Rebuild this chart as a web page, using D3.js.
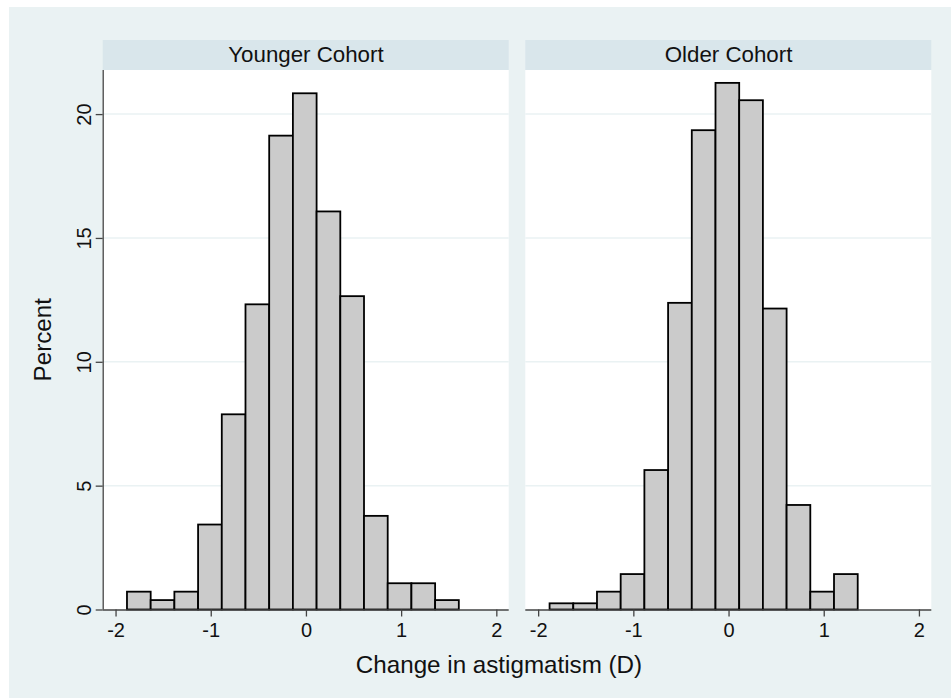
<!DOCTYPE html>
<html><head><meta charset="utf-8">
<script src="https://cdn.jsdelivr.net/npm/d3@7"></script>
<style>html,body{margin:0;padding:0;background:#fff;}svg{display:block;font-family:"Liberation Sans",Arial,sans-serif;}</style>
</head><body>
<script>
// Data
const panels = ["Younger Cohort", "Older Cohort"];
const binStart = -1.88;
const binWidth = 0.249;
const younger = [0.72, 0.38, 0.72, 3.43, 7.88, 12.32, 19.13, 20.84, 16.07, 12.65, 3.78, 1.06, 1.06, 0.38];
const older   = [0.25, 0.25, 0.72, 1.43, 5.63, 12.38, 19.35, 21.26, 20.56, 12.15, 4.22, 0.72, 1.43];
const xTicks = [-2, -1, 0, 1, 2];
const yTicks = [0, 5, 10, 15, 20];
const xTitle = "Change in astigmatism (D)";
const yTitle = "Percent";

const W = 951, H = 698;
const svg = d3.select("body").append("svg").attr("width", W).attr("height", H);
svg.append("rect").attr("x", 9).attr("y", 7).attr("width", W - 9).attr("height", H - 7).attr("fill", "#eaf2f3");

const plotTop = 70, plotBottom = 609.5, panelW = 406;
const panelX = [102.7, 525.3];
const y = d3.scaleLinear().domain([0, 21.78]).range([plotBottom, plotTop]);
const series = [younger, older];

panels.forEach((name, i) => {
  const x0 = panelX[i];
  const x = d3.scaleLinear().domain([-2.135, 2.13]).range([x0, x0 + panelW]);
  const g = svg.append("g");
  // header
  g.append("rect").attr("x", x0).attr("y", 40).attr("width", panelW).attr("height", 30).attr("fill", "#d9e6eb");
  g.append("text").attr("x", x(0)).attr("y", 62).attr("text-anchor", "middle")
    .attr("font-size", 22.3).attr("fill", "#111").text(name);
  // plot area
  g.append("rect").attr("x", x0).attr("y", plotTop).attr("width", panelW).attr("height", plotBottom - plotTop).attr("fill", "#fff");
  // grid
  g.selectAll("line.grid").data(yTicks.filter(d => d > 0)).join("line")
    .attr("x1", x0).attr("x2", x0 + panelW)
    .attr("y1", d => y(d)).attr("y2", d => y(d))
    .attr("stroke", "#eaf2f3").attr("stroke-width", 1.5);
  // bars
  const bins = series[i].map((v, k) => ({x0: binStart + k * binWidth, x1: binStart + (k + 1) * binWidth, v}));
  g.selectAll("rect.bar").data(bins).join("rect")
    .attr("x", d => x(d.x0)).attr("width", d => x(d.x1) - x(d.x0))
    .attr("y", d => y(d.v)).attr("height", d => y(0) - y(d.v))
    .attr("fill", "#cbcbcb").attr("stroke", "#000").attr("stroke-width", 1.8);
  // x axis
  const xa = g.append("g").attr("transform", `translate(0,${plotBottom})`)
    .call(d3.axisBottom(x).tickValues(xTicks).tickSize(7).tickPadding(6).tickFormat(d3.format("d")));
  xa.select(".domain").attr("stroke", "#444").attr("stroke-width", 1.3).attr("d", `M${x0},0.5H${x0 + panelW}`);
  xa.selectAll(".tick line").attr("stroke", "#444").attr("stroke-width", 1.3);
  xa.selectAll(".tick text").attr("font-size", 20).attr("fill", "#111").attr("font-family", "Liberation Sans, Arial, sans-serif")
    .text(d => d < 0 ? "-" + Math.abs(d) : d);
  if (i === 0) {
    const ya = g.append("g").attr("transform", `translate(${x0},0)`)
      .call(d3.axisLeft(y).tickValues(yTicks).tickSize(7).tickPadding(0).tickFormat(d3.format("d")));
    ya.select(".domain").attr("stroke", "#444").attr("stroke-width", 1.3).attr("d", `M0.5,${plotTop}V${plotBottom}`);
    ya.selectAll(".tick line").attr("stroke", "#444").attr("stroke-width", 1.3);
    ya.selectAll(".tick text").attr("font-size", 20).attr("fill", "#111").attr("font-family", "Liberation Sans, Arial, sans-serif")
      .attr("text-anchor", "middle").attr("x", 0).attr("y", 0)
      .attr("transform", "translate(-12,0) rotate(-90)").attr("dy", "0em");
  }
});

svg.append("text").attr("x", 499).attr("y", 672.5).attr("text-anchor", "middle")
  .attr("font-size", 24.2).attr("fill", "#111").text(xTitle);
svg.append("text").attr("transform", `translate(51,${(plotTop + plotBottom) / 2}) rotate(-90)`).attr("text-anchor", "middle")
  .attr("font-size", 24.2).attr("fill", "#111").text(yTitle);
</script>
</body></html>
